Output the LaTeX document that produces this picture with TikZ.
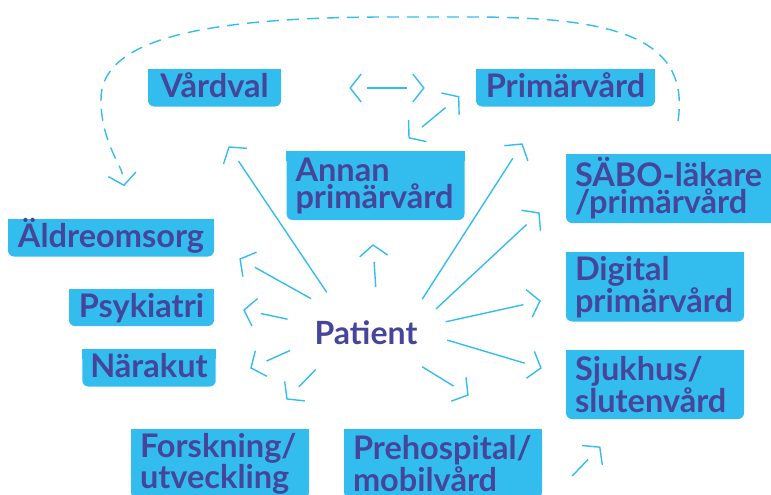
\documentclass[tikz,border=0pt]{standalone}
\usepackage{fontspec}
\setmainfont{Lato}
\usetikzlibrary{decorations.markings,shapes.geometric,backgrounds}

\definecolor{vardblue}{HTML}{33BDEF}
\definecolor{vardtext}{HTML}{45469B}

\newcommand{\boxfont}{\fontsize{32.5}{27}\selectfont\bfseries}

\tikzset{
  vbox/.style={fill=vardblue, text=vardtext, rounded corners=6pt, font=\boxfont},
  onebox/.style={vbox, inner xsep=8pt, inner ysep=5pt, text height=23pt, text depth=4pt},
  twobox/.style={vbox, align=left, text width=160pt, inner xsep=9pt, minimum height=69pt},
  chevron/.style={draw=vardblue, solid, line width=1.4pt, shorten >=0pt, shorten <=0pt},
  line/.style={draw=vardblue, line width=1.4pt, postaction={decorate}},
  flow/.style={line, shorten >=17pt,
     decoration={markings, mark=at position 1 with {\draw[chevron] (-11pt,14pt) -- (0pt,0pt) -- (-11pt,-14pt);}}},
  flowboth/.style={line, shorten >=17pt, shorten <=17pt,
     decoration={markings,
        mark=at position 0 with {\draw[chevron] (11pt,14pt) -- (0pt,0pt) -- (11pt,-14pt);},
        mark=at position 1 with {\draw[chevron] (-11pt,14pt) -- (0pt,0pt) -- (-11pt,-14pt);}}},
  dashflow/.style={line, shorten >=12pt, dash pattern=on 12pt off 8pt,
     decoration={markings, mark=at position 0.999 with {\draw[chevron] (-11pt,14pt) -- (0pt,0pt) -- (-11pt,-14pt);}}}
}

\begin{document}
\begin{tikzpicture}[x=1pt, y=1pt]
   \useasboundingbox (0,0) rectangle (771,-495);

   \node[onebox, minimum width=133pt] (vardval) at (214.5,-88) {Vårdval};
   \node[onebox, minimum width=179pt] (primar) at (565.5,-88) {Primärvård};
   \node[twobox] (annan) at (375.5,-185.5) {Annan\\primärvård};
   \node[twobox, text width=192pt] (sabo) at (671,-188.5) {SÄBO-läkare\\/primärvård};
   \node[onebox, minimum width=206pt] (aldre) at (111,-238) {Äldreomsorg};
   \node[twobox] (digital) at (655,-287) {Digital\\primärvård};
   \node[onebox, minimum width=145pt] (psyk) at (141.5,-307.5) {Psykiatri};
   \node[onebox, minimum width=130pt] (narakut) at (149,-368) {Närakut};
   \node[twobox] (sjukhus) at (655,-384.5) {Sjukhus/\\slutenvård};
   \node[twobox] (forsk) at (220,-463.5) {Forskning/\\utveckling};
   \node[twobox, text width=180pt] (prehosp) at (443,-463.5) {Prehospital/\\mobilvård};

   \node[ellipse, minimum width=164pt, minimum height=92pt, inner sep=0pt,
         text=vardtext, font=\fontsize{32}{32}\selectfont\bfseries] (patient) at (366,-333) {Patient};

   % square top corners
   \begin{scope}[on background layer]
   \foreach \n in {vardval,primar,annan,sabo,aldre,digital,psyk,narakut,sjukhus,forsk,prehosp}
      \fill[vardblue] (\n.north west) rectangle ([yshift=-10pt]\n.north east);
   \end{scope}

   \coordinate (tip-vardval) at (229,-147);
   \coordinate (tip-annan) at (373,-245);
   \coordinate (tip-primar) at (522,-144);
   \coordinate (tip-sabo) at (539,-213);
   \coordinate (tip-digital) at (540,-301);
   \coordinate (tip-sjukhus) at (541,-368);
   \coordinate (tip-prehosp) at (468,-395);
   \coordinate (tip-forsk) at (287,-399);
   \coordinate (tip-narakut) at (251,-368);
   \coordinate (tip-psyk) at (244,-310);
   \coordinate (tip-aldre) at (240,-259);

   \draw[flow] (patient.134) -- (tip-vardval);
   \draw[flow] (patient.78) -- (tip-annan);
   \draw[flow] (patient.31) -- (tip-primar);
   \draw[flow] (patient.19) -- (tip-sabo);
   \draw[flow] (patient.8) -- (tip-digital);
   \draw[flow] (patient.355) -- (tip-sjukhus);
   \draw[flow] (patient.329) -- (tip-prehosp);
   \draw[flow] (patient.216) -- (tip-forsk);
   \draw[flow] (patient.193) -- (tip-narakut);
   \draw[flow] (patient.170) -- (tip-psyk);
   \draw[flow] (patient.148) -- (tip-aldre);

   \draw[flowboth] ([xshift=69pt]vardval.east) -- ([xshift=-52pt]primar.west);
   \draw[flowboth] ([xshift=33.5pt,yshift=13pt]annan.north) -- ([xshift=-17pt,yshift=10pt]primar.south west);
   \draw[flow] ([xshift=30pt,yshift=-12.5pt]prehosp.east) -- ([xshift=34pt,yshift=-28pt]sjukhus.south west);

   %\draw[dashflow] (primar) -- (aldre);
   \draw[dashflow] (678,-121) .. controls (690,-40) and (620,-18) .. (480,-17) -- (380,-17)
      .. controls (200,-18) and (100,-40) .. (101,-100)
      .. controls (101,-140) and (121,-165) .. (124,-186);
\end{tikzpicture}
\end{document}
